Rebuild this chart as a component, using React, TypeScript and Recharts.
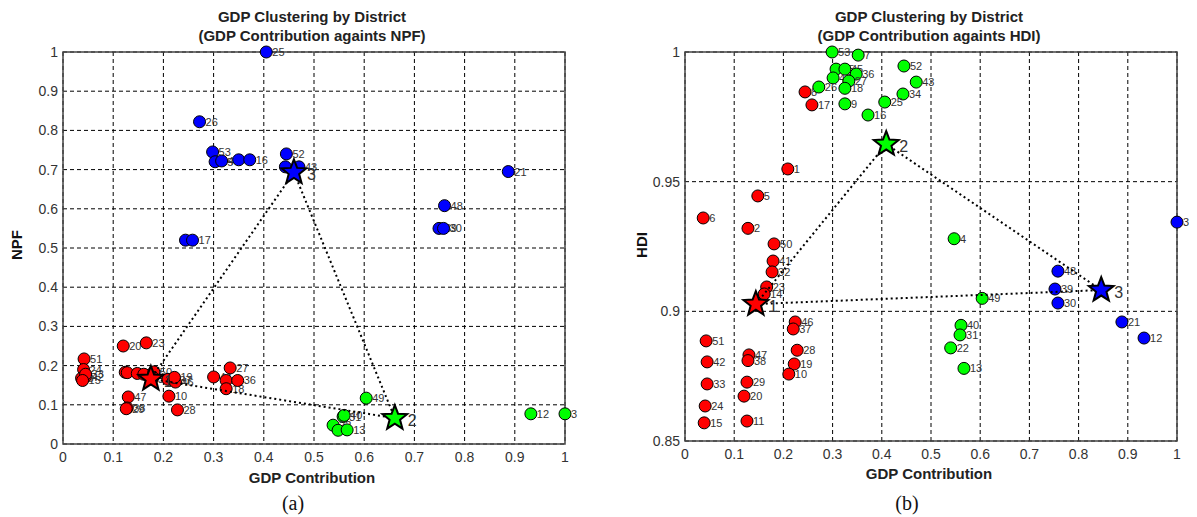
import React from "react";
import { ScatterChart, Scatter, XAxis, YAxis, CartesianGrid, ReferenceArea } from "recharts";

// [district, GDP contribution, value]
type Pt = [string, number, number];

// (a) GDP contribution against NPF
const npfRed: Pt[] = [
  ["20", 0.12, 0.25], ["23", 0.166, 0.258], ["51", 0.042, 0.217], ["24", 0.041, 0.19],
  ["6", 0.037, 0.168], ["42", 0.045, 0.172], ["33", 0.045, 0.178], ["15", 0.039, 0.162],
  ["11", 0.124, 0.183], ["2", 0.128, 0.182], ["5", 0.148, 0.18], ["14", 0.161, 0.178],
  ["50", 0.181, 0.184], ["41", 0.179, 0.17], ["32", 0.177, 0.165], ["1", 0.209, 0.165],
  ["37", 0.22, 0.162], ["46", 0.224, 0.158], ["19", 0.222, 0.17], ["10", 0.211, 0.122],
  ["47", 0.13, 0.12], ["38", 0.128, 0.092], ["29", 0.126, 0.09], ["28", 0.228, 0.087],
  ["44", 0.3, 0.171], ["27", 0.333, 0.194], ["9", 0.325, 0.162], ["18", 0.325, 0.141],
  ["36", 0.348, 0.162],
];
const npfGreen: Pt[] = [
  ["49", 0.604, 0.117], ["31", 0.558, 0.07], ["40", 0.56, 0.073], ["22", 0.538, 0.048],
  ["4", 0.548, 0.035], ["13", 0.566, 0.036], ["12", 0.932, 0.077], ["3", 1.0, 0.077],
];
const npfBlue: Pt[] = [
  ["25", 0.405, 1.0], ["26", 0.272, 0.822], ["53", 0.298, 0.745], ["35", 0.303, 0.72],
  ["45", 0.316, 0.722], ["7", 0.35, 0.725], ["16", 0.372, 0.725], ["52", 0.445, 0.74],
  ["34", 0.443, 0.707], ["43", 0.47, 0.707], ["21", 0.887, 0.695], ["48", 0.76, 0.608],
  ["39", 0.749, 0.55], ["30", 0.758, 0.55], ["8", 0.244, 0.52], ["17", 0.258, 0.52],
];
const npfCentroids: Pt[] = [["1", 0.175, 0.166], ["2", 0.661, 0.066], ["3", 0.46, 0.693]];

// (b) GDP contribution against HDI
const hdiRed: Pt[] = [
  ["8", 0.244, 0.9846], ["17", 0.258, 0.9796], ["1", 0.209, 0.9549], ["5", 0.148, 0.9445],
  ["6", 0.037, 0.936], ["2", 0.128, 0.932], ["50", 0.181, 0.926], ["41", 0.179, 0.9194],
  ["32", 0.177, 0.9152], ["23", 0.166, 0.9094], ["14", 0.161, 0.9067], ["46", 0.224, 0.8959],
  ["37", 0.22, 0.8932], ["51", 0.043, 0.8886], ["42", 0.045, 0.8805], ["33", 0.045, 0.872],
  ["24", 0.041, 0.8635], ["15", 0.039, 0.857], ["47", 0.13, 0.8832], ["38", 0.128, 0.881],
  ["29", 0.126, 0.8727], ["20", 0.12, 0.8673], ["11", 0.126, 0.8577], ["28", 0.228, 0.885],
  ["19", 0.222, 0.8797], ["10", 0.211, 0.8758],
];
const hdiGreen: Pt[] = [
  ["53", 0.299, 1.0], ["7", 0.352, 0.9988], ["52", 0.445, 0.9946], ["43", 0.47, 0.9884],
  ["35", 0.307, 0.9934], ["45", 0.325, 0.9934], ["36", 0.348, 0.9915], ["44", 0.301, 0.99],
  ["27", 0.333, 0.9888], ["18", 0.325, 0.986], ["26", 0.272, 0.9865], ["9", 0.325, 0.98],
  ["34", 0.443, 0.9838], ["25", 0.406, 0.9807], ["16", 0.372, 0.9757], ["4", 0.547, 0.928],
  ["49", 0.604, 0.905], ["40", 0.561, 0.8946], ["31", 0.559, 0.8909], ["22", 0.54, 0.8859],
  ["13", 0.567, 0.878],
];
const hdiBlue: Pt[] = [
  ["3", 1.0, 0.9344], ["48", 0.758, 0.9155], ["39", 0.752, 0.9086], ["30", 0.758, 0.9032],
  ["21", 0.888, 0.8959], ["12", 0.933, 0.8897],
];
const hdiCentroids: Pt[] = [["1", 0.144, 0.9028], ["2", 0.409, 0.9645], ["3", 0.846, 0.9082]];

const xTicks = [0, 0.1, 0.2, 0.3, 0.4, 0.5, 0.6, 0.7, 0.8, 0.9, 1];
const npfTicks = [0, 0.1, 0.2, 0.3, 0.4, 0.5, 0.6, 0.7, 0.8, 0.9, 1];
const hdiTicks = [0.85, 0.9, 0.95, 1];

const RED = "#ff0000";
const GREEN = "#00ff00";
const BLUE = "#0000ff";
const clusterColors = [RED, GREEN, BLUE];
const SANS = "Arial, 'Liberation Sans', sans-serif";

const rows = (pts: Pt[]) => pts.map(([id, x, y], i) => ({ id, x, y, c: i }));

const dot = (fill: string) => (p: any) => (
  <g>
    <circle cx={p.cx} cy={p.cy} r={6} fill={fill} stroke="#000" strokeWidth={1} />
    <text x={p.cx + 6} y={p.cy + 4} fontSize={11} fill="#333" fontFamily={SANS}>
      {p.payload.id}
    </text>
  </g>
);

const star = (p: any) => {
  const pts: string[] = [];
  for (let k = 0; k < 10; k++) {
    const r = k % 2 === 0 ? 13 : 5.5;
    const a = -Math.PI / 2 + (k * Math.PI) / 5;
    pts.push(`${p.cx + r * Math.cos(a)},${p.cy + r * Math.sin(a)}`);
  }
  return (
    <g>
      <polygon points={pts.join(" ")} fill={clusterColors[p.payload.c]} stroke="#000" strokeWidth={2} />
      <text x={p.cx + 13} y={p.cy + 8} fontSize={16} fill="#333" fontFamily={SANS}>
        {p.payload.id}
      </text>
    </g>
  );
};

const noShape = () => <g />;

function Panel({ red, green, blue, centroids, yTicks, yMin, width, height, yWidth, right }: any) {
  const loop = rows([...centroids, centroids[0]]);
  return (
    <ScatterChart width={width} height={height} margin={{ top: 44, right, bottom: 0, left: 0 }}>
      <CartesianGrid stroke="#000" strokeDasharray="4 3" />
      <ReferenceArea x1={0} x2={1} y1={yMin} y2={1} fill="none" stroke="#444" strokeWidth={1.5} />
      <XAxis
        type="number"
        dataKey="x"
        domain={[0, 1]}
        ticks={xTicks}
        tickFormatter={(v) => String(v)}
        axisLine={false}
        tickLine={false}
        tickSize={0}
        tickMargin={8}
        height={30}
        tick={{ fontSize: 14, fill: "#333", fontFamily: SANS }}
      />
      <YAxis
        type="number"
        dataKey="y"
        domain={[yMin, 1]}
        ticks={yTicks}
        tickFormatter={(v) => String(v)}
        axisLine={false}
        tickLine={false}
        tickSize={0}
        tickMargin={5}
        width={yWidth}
        tick={{ fontSize: 14, fill: "#333", fontFamily: SANS }}
      />
      <Scatter data={rows(red)} shape={dot(RED)} isAnimationActive={false} />
      <Scatter data={rows(green)} shape={dot(GREEN)} isAnimationActive={false} />
      <Scatter data={rows(blue)} shape={dot(BLUE)} isAnimationActive={false} />
      <Scatter
        data={loop}
        shape={noShape}
        line={{ stroke: "#000", strokeWidth: 2, strokeDasharray: "2 3" }}
        isAnimationActive={false}
      />
      <Scatter data={rows(centroids)} shape={star} isAnimationActive={false} />
    </ScatterChart>
  );
}

const titleStyle: React.CSSProperties = {
  position: "absolute",
  width: 400,
  textAlign: "center",
  fontFamily: SANS,
  fontWeight: "bold",
  fontSize: 15,
  lineHeight: "18.5px",
  color: "#222",
};
const captionStyle: React.CSSProperties = {
  position: "absolute",
  width: 100,
  textAlign: "center",
  fontFamily: "'Times New Roman', 'Liberation Serif', serif",
  fontSize: 20,
  lineHeight: "24px",
  color: "#111",
};
const yLabelStyle: React.CSSProperties = {
  position: "absolute",
  fontFamily: SANS,
  fontWeight: "bold",
  fontSize: 15,
  color: "#111",
  transform: "translate(-50%, -50%) rotate(-90deg)",
};

export default function App() {
  return (
    <div style={{ position: "relative", width: 1181, height: 509 }}>
      <div style={{ position: "absolute", left: 0, top: 0 }}>
        <Panel red={npfRed} green={npfGreen} blue={npfBlue} centroids={npfCentroids}
          yTicks={npfTicks} yMin={0} width={577} height={466} yWidth={55} right={20} />
      </div>
      <div style={{ position: "absolute", left: 612, top: 0 }}>
        <Panel red={hdiRed} green={hdiGreen} blue={hdiBlue} centroids={hdiCentroids}
          yTicks={hdiTicks} yMin={0.85} width={572} height={463} yWidth={65} right={15} />
      </div>

      <div style={{ ...titleStyle, left: 104, top: 0 }}>
        GDP Clustering by District<br />(GDP Contribution againts NPF)
      </div>
      <div style={{ ...titleStyle, left: 721, top: 0 }}>
        GDP Clustering by District<br />(GDP Contribution againts HDI)
      </div>

      <div style={{ ...titleStyle, left: 104, top: 461 }}>GDP Contribution</div>
      <div style={{ ...titleStyle, left: 721, top: 457 }}>GDP Contribution</div>

      <div style={{ ...yLabelStyle, left: 8, top: 237 }}>NPF</div>
      <div style={{ ...yLabelStyle, left: 633, top: 237 }}>HDI</div>

      <div style={{ ...captionStyle, left: 235, top: 483 }}>(a)</div>
      <div style={{ ...captionStyle, left: 849, top: 483 }}>(b)</div>
    </div>
  );
}
